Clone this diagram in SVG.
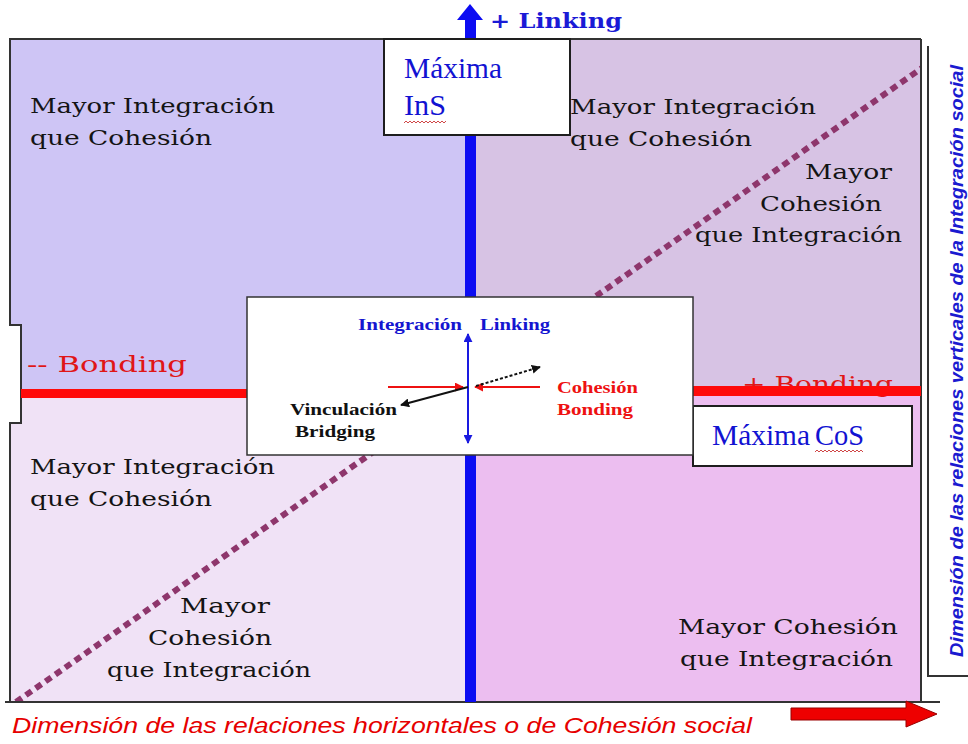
<svg xmlns="http://www.w3.org/2000/svg" width="968" height="744" viewBox="0 0 968 744">
<defs>
<style>
.q{font-family:"DejaVu Serif","Liberation Serif",serif;font-size:21px;fill:#141414;}
.bond{font-family:"DejaVu Serif","Liberation Serif",serif;font-size:23px;fill:#e01616;}
.max{font-family:"Liberation Serif","DejaVu Serif",serif;font-size:29px;fill:#1212d2;}
.cl{font-family:"Liberation Serif","DejaVu Serif",serif;font-size:17px;font-weight:bold;}
.box{fill:#ffffff;stroke:#1e1e1e;stroke-width:2;}
.frame{fill:none;stroke:#333;stroke-width:2;}
.wavy{fill:none;stroke:#d04848;stroke-width:1;}
</style>
<marker id="mb" viewBox="0 0 10 10" refX="9" refY="5" markerWidth="9" markerHeight="9" markerUnits="userSpaceOnUse" orient="auto-start-reverse"><path d="M0,0 L10,5 L0,10 Z" fill="#1a1ae0"/></marker>
<marker id="mr" viewBox="0 0 10 10" refX="9" refY="5" markerWidth="9" markerHeight="9" markerUnits="userSpaceOnUse" orient="auto"><path d="M0,0 L10,5 L0,10 Z" fill="#ee1111"/></marker>
<marker id="mk" viewBox="0 0 10 10" refX="9" refY="5" markerWidth="9" markerHeight="9" markerUnits="userSpaceOnUse" orient="auto"><path d="M0,0 L10,5 L0,10 Z" fill="#111"/></marker>
<clipPath id="qc"><rect x="10" y="39" width="911" height="663"/></clipPath>
</defs>
<rect width="968" height="744" fill="#ffffff"/>

<g id="quadrants">
<rect x="10" y="39" width="458" height="352" fill="#cec5f5"/>
<rect x="468" y="39" width="453" height="352" fill="#d7c3e4"/>
<rect x="10" y="391" width="458" height="311" fill="#f0e2f6"/>
<rect x="468" y="391" width="453" height="311" fill="#ecbef0"/>
<rect x="0" y="325" width="21" height="98" fill="#ffffff"/>
</g>

<g id="diagonal" clip-path="url(#qc)">
<line x1="16" y1="702" x2="922" y2="68" stroke="#8e366c" stroke-width="6" stroke-dasharray="7 5"/>
</g>

<g id="frame">
<path class="frame" d="M921,39 H10 V325 H21 V423 H10 V702"/>
<path class="frame" d="M921,39 V702"/>
<path class="frame" d="M5,702 H940"/>
<path class="frame" d="M928,46 V676 H968"/>
</g>

<g id="axis-vertical">
<rect x="465" y="18" width="11" height="684" fill="#0c0cf2"/>
<polygon points="457,20 470,4 483,20" fill="#0c0cf2"/>
<text x="490" y="28" font-family="DejaVu Serif, Liberation Serif, serif" font-size="20" font-weight="bold" fill="#1a1ad6" textLength="132" lengthAdjust="spacingAndGlyphs">+ Linking</text>
</g>

<g id="bonding-labels">
<text class="bond" x="27" y="372" textLength="160" lengthAdjust="spacingAndGlyphs">-- Bonding</text>
<text class="bond" x="742" y="392" textLength="151" lengthAdjust="spacingAndGlyphs">+ Bonding</text>
</g>

<g id="axis-horizontal">
<rect x="21" y="389" width="226" height="9" fill="#ff0a0a"/>
<rect x="693" y="386" width="228" height="10" fill="#ff0a0a"/>
</g>

<g id="q-top-left">
<text class="q" x="30" y="113" textLength="245" lengthAdjust="spacingAndGlyphs">Mayor Integración</text>
<text class="q" x="30" y="145" textLength="182" lengthAdjust="spacingAndGlyphs">que Cohesión</text>
</g>
<g id="q-top-right">
<text class="q" x="570" y="114" textLength="246" lengthAdjust="spacingAndGlyphs">Mayor Integración</text>
<text class="q" x="570" y="146" textLength="182" lengthAdjust="spacingAndGlyphs">que Cohesión</text>
<text class="q" x="805" y="179" textLength="87" lengthAdjust="spacingAndGlyphs">Mayor</text>
<text class="q" x="760" y="211" textLength="122" lengthAdjust="spacingAndGlyphs">Cohesión</text>
<text class="q" x="695" y="242" textLength="207" lengthAdjust="spacingAndGlyphs">que Integración</text>
</g>
<g id="q-bottom-left">
<text class="q" x="30" y="474" textLength="245" lengthAdjust="spacingAndGlyphs">Mayor Integración</text>
<text class="q" x="30" y="506" textLength="182" lengthAdjust="spacingAndGlyphs">que Cohesión</text>
<text class="q" x="180" y="613" textLength="90" lengthAdjust="spacingAndGlyphs">Mayor</text>
<text class="q" x="148" y="645" textLength="124" lengthAdjust="spacingAndGlyphs">Cohesión</text>
<text class="q" x="107" y="677" textLength="204" lengthAdjust="spacingAndGlyphs">que Integración</text>
</g>
<g id="q-bottom-right">
<text class="q" x="678" y="634" textLength="220" lengthAdjust="spacingAndGlyphs">Mayor Cohesión</text>
<text class="q" x="680" y="666" textLength="213" lengthAdjust="spacingAndGlyphs">que  Integración</text>
</g>

<g id="maxima-ins">
<rect class="box" x="384" y="39" width="186" height="96"/>
<text class="max" x="404" y="78" textLength="98" lengthAdjust="spacingAndGlyphs">Máxima</text>
<text class="max" x="404" y="115" textLength="42" lengthAdjust="spacingAndGlyphs">InS</text>
<polyline class="wavy" points="404,123 406,121 408,123 410,121 412,123 414,121 416,123 418,121 420,123 422,121 424,123 426,121 428,123 430,121 432,123 434,121 436,123 438,121 440,123 442,121 444,123 446,121"/>
</g>

<g id="maxima-cos">
<rect class="box" x="693" y="406" width="219" height="60"/>
<text class="max" x="712" y="445" textLength="98" lengthAdjust="spacingAndGlyphs">Máxima</text>
<text class="max" x="815" y="445" textLength="49" lengthAdjust="spacingAndGlyphs">CoS</text>
<polyline class="wavy" points="815,452 817,450 819,452 821,450 823,452 825,450 827,452 829,450 831,452 833,450 835,452 837,450 839,452 841,450 843,452 845,450 847,452 849,450 851,452 853,450 855,452 857,450 859,452 861,450 863,452"/>
</g>

<g id="center-legend">
<rect x="247" y="297" width="446" height="158" fill="#ffffff" stroke="#333" stroke-width="1.5"/>
<text class="cl" x="358" y="330" fill="#1515d0" textLength="104" lengthAdjust="spacingAndGlyphs">Integración</text>
<text class="cl" x="480" y="330" fill="#1515d0" textLength="70" lengthAdjust="spacingAndGlyphs">Linking</text>
<text class="cl" x="290" y="415" fill="#111" textLength="107" lengthAdjust="spacingAndGlyphs">Vinculación</text>
<text class="cl" x="295" y="437" fill="#111" textLength="80" lengthAdjust="spacingAndGlyphs">Bridging</text>
<text class="cl" x="557" y="393" fill="#ee1111" textLength="81" lengthAdjust="spacingAndGlyphs">Cohesión</text>
<text class="cl" x="557" y="415" fill="#ee1111" textLength="76" lengthAdjust="spacingAndGlyphs">Bonding</text>
</g>

<g id="connectors">
<line x1="468" y1="334" x2="468" y2="443" stroke="#1a1ae0" stroke-width="2" marker-start="url(#mb)" marker-end="url(#mb)"/>
<line x1="388" y1="387" x2="463" y2="387" stroke="#ee1111" stroke-width="2" marker-end="url(#mr)"/>
<line x1="540" y1="387" x2="475" y2="387" stroke="#ee1111" stroke-width="2" marker-end="url(#mr)"/>
<line x1="468" y1="387" x2="401" y2="405" stroke="#111" stroke-width="2" marker-end="url(#mk)"/>
<line x1="476" y1="386" x2="540" y2="367" stroke="#111" stroke-width="2" stroke-dasharray="3 2" marker-end="url(#mk)"/>
</g>

<g id="axis-labels">
<text transform="translate(963,657) rotate(-90)" font-family="Liberation Sans, Arial, sans-serif" font-size="18" font-style="italic" font-weight="bold" fill="#1a1ad0" textLength="592" lengthAdjust="spacingAndGlyphs">Dimensión  de las  relaciones verticales de la Integración social</text>
<text x="12" y="733" font-family="Liberation Sans, Arial, sans-serif" font-size="22" font-style="italic" fill="#e60000" textLength="740" lengthAdjust="spacingAndGlyphs">Dimensión  de las  relaciones horizontales o de Cohesión social</text>
<polygon points="791,708 906,708 906,701 937,714 906,727 906,720 791,720" fill="#ee0000" stroke="#990000" stroke-width="1"/>
</g>
</svg>
